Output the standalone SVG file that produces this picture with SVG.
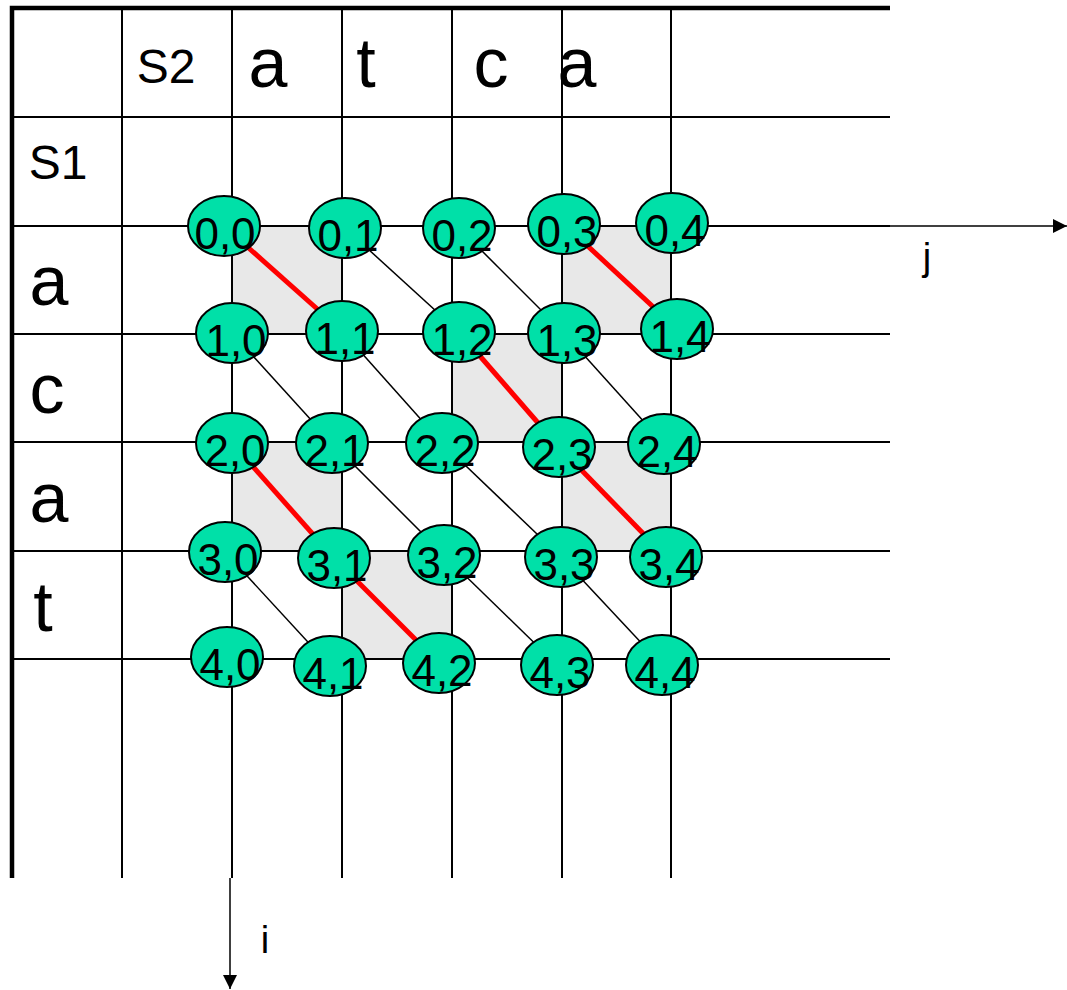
<svg xmlns="http://www.w3.org/2000/svg" width="1067" height="990" viewBox="0 0 1067 990">
<defs>
<style>
.grid{stroke:#000;stroke-width:2;fill:none}
.border{stroke:#000;stroke-width:4.5;fill:none}
.shade{fill:#e8e8e8}
.red{stroke:#ff0000;stroke-width:5}
.thin{stroke:#000;stroke-width:1.5}
.node ellipse{fill:#00e0a8;stroke:#000;stroke-width:2}
.node text{font-family:"Liberation Sans",Arial,sans-serif;font-size:44px;text-anchor:middle;fill:#000}
.big{font-family:"Liberation Sans",Arial,sans-serif;font-size:70px;text-anchor:middle;fill:#000}
.mid{font-family:"Liberation Sans",Arial,sans-serif;font-size:48px;text-anchor:middle;fill:#000}
.axis{font-family:"Liberation Sans",Arial,sans-serif;font-size:38px;text-anchor:middle;fill:#000}
</style>
<marker id="arr" viewBox="0 0 10 10" refX="10" refY="5" markerWidth="14" markerHeight="14" markerUnits="userSpaceOnUse" orient="auto">
<path d="M0,0 L10,5 L0,10 z" fill="#000"/>
</marker>
</defs>
<rect width="1067" height="990" fill="#fff"/>
<g id="shading">
<rect class="shade" x="232" y="226" width="110" height="108"/>
<rect class="shade" x="562" y="226" width="109" height="108"/>
<rect class="shade" x="452" y="334" width="110" height="108"/>
<rect class="shade" x="232" y="442" width="110" height="109"/>
<rect class="shade" x="562" y="442" width="109" height="109"/>
<rect class="shade" x="342" y="551" width="110" height="108"/>
</g>
<g id="grid">
<line class="grid" x1="122" y1="8" x2="122" y2="878"/>
<line class="grid" x1="232" y1="8" x2="232" y2="878"/>
<line class="grid" x1="342" y1="8" x2="342" y2="878"/>
<line class="grid" x1="452" y1="8" x2="452" y2="878"/>
<line class="grid" x1="562" y1="8" x2="562" y2="878"/>
<line class="grid" x1="671" y1="8" x2="671" y2="878"/>
<line class="grid" x1="12" y1="117" x2="890" y2="117"/>
<line class="grid" x1="12" y1="226" x2="890" y2="226"/>
<line class="grid" x1="12" y1="334" x2="890" y2="334"/>
<line class="grid" x1="12" y1="442" x2="890" y2="442"/>
<line class="grid" x1="12" y1="551" x2="890" y2="551"/>
<line class="grid" x1="12" y1="659" x2="890" y2="659"/>
<path class="border" d="M12,878 L12,8 L890,8"/>
</g>
<g id="axes">
<line x1="890" y1="226" x2="1067" y2="226" stroke="#000" stroke-width="1.5" marker-end="url(#arr)"/>
<line x1="230" y1="878" x2="230" y2="989" stroke="#000" stroke-width="1.5" marker-end="url(#arr)"/>
<text class="axis" x="927" y="270">j</text>
<text class="axis" x="265" y="953">i</text>
</g>
<g id="labels">
<text class="mid" x="166" y="83">S2</text>
<text class="big" x="268" y="87">a</text>
<text class="big" x="366" y="87">t</text>
<text class="big" x="491" y="87">c</text>
<text class="big" x="577" y="87">a</text>
<text class="mid" x="58" y="179">S1</text>
<text class="big" x="49" y="305">a</text>
<text class="big" x="47" y="413">c</text>
<text class="big" x="49" y="522">a</text>
<text class="big" x="43" y="631">t</text>
</g>
<g id="connectors">
<line class="red" x1="224" y1="226" x2="342" y2="331"/>
<line class="red" x1="564" y1="224" x2="677" y2="329"/>
<line class="red" x1="459" y1="332" x2="559" y2="447"/>
<line class="red" x1="232" y1="443" x2="334" y2="558"/>
<line class="red" x1="559" y1="447" x2="666" y2="557"/>
<line class="red" x1="334" y1="558" x2="439" y2="663"/>
<line class="thin" x1="345" y1="228" x2="459" y2="332"/>
<line class="thin" x1="459" y1="228" x2="564" y2="333"/>
<line class="thin" x1="232" y1="333" x2="332" y2="443"/>
<line class="thin" x1="342" y1="331" x2="442" y2="443"/>
<line class="thin" x1="564" y1="333" x2="664" y2="444"/>
<line class="thin" x1="332" y1="443" x2="444" y2="555"/>
<line class="thin" x1="442" y1="443" x2="561" y2="557"/>
<line class="thin" x1="225" y1="552" x2="330" y2="666"/>
<line class="thin" x1="444" y1="555" x2="557" y2="665"/>
<line class="thin" x1="561" y1="557" x2="662" y2="665"/>
</g>
<g id="n00" class="node"><ellipse cx="224" cy="226" rx="36" ry="30"/><text x="225" y="249">0,0</text></g>
<g id="n01" class="node"><ellipse cx="345" cy="228" rx="36" ry="30"/><text x="348" y="251">0,1</text></g>
<g id="n02" class="node"><ellipse cx="459" cy="228" rx="36" ry="30"/><text x="462" y="251">0,2</text></g>
<g id="n03" class="node"><ellipse cx="564" cy="224" rx="36" ry="30"/><text x="567" y="247">0,3</text></g>
<g id="n04" class="node"><ellipse cx="672" cy="223" rx="36" ry="30"/><text x="675" y="246">0,4</text></g>
<g id="n10" class="node"><ellipse cx="232" cy="333" rx="36" ry="30"/><text x="236" y="356">1,0</text></g>
<g id="n11" class="node"><ellipse cx="342" cy="331" rx="36" ry="30"/><text x="345" y="354">1,1</text></g>
<g id="n12" class="node"><ellipse cx="459" cy="332" rx="36" ry="30"/><text x="462" y="355">1,2</text></g>
<g id="n13" class="node"><ellipse cx="564" cy="333" rx="36" ry="30"/><text x="567" y="356">1,3</text></g>
<g id="n14" class="node"><ellipse cx="677" cy="329" rx="36" ry="30"/><text x="680" y="352">1,4</text></g>
<g id="n20" class="node"><ellipse cx="232" cy="443" rx="36" ry="30"/><text x="235" y="466">2,0</text></g>
<g id="n21" class="node"><ellipse cx="332" cy="443" rx="36" ry="30"/><text x="335" y="466">2,1</text></g>
<g id="n22" class="node"><ellipse cx="442" cy="443" rx="36" ry="30"/><text x="445" y="466">2,2</text></g>
<g id="n23" class="node"><ellipse cx="559" cy="447" rx="36" ry="30"/><text x="562" y="470">2,3</text></g>
<g id="n24" class="node"><ellipse cx="664" cy="444" rx="36" ry="30"/><text x="667" y="467">2,4</text></g>
<g id="n30" class="node"><ellipse cx="225" cy="552" rx="36" ry="30"/><text x="228" y="575">3,0</text></g>
<g id="n31" class="node"><ellipse cx="334" cy="558" rx="36" ry="30"/><text x="337" y="581">3,1</text></g>
<g id="n32" class="node"><ellipse cx="444" cy="555" rx="36" ry="30"/><text x="447" y="578">3,2</text></g>
<g id="n33" class="node"><ellipse cx="561" cy="557" rx="36" ry="30"/><text x="564" y="580">3,3</text></g>
<g id="n34" class="node"><ellipse cx="666" cy="557" rx="36" ry="30"/><text x="669" y="580">3,4</text></g>
<g id="n40" class="node"><ellipse cx="227" cy="657" rx="36" ry="30"/><text x="230" y="680">4,0</text></g>
<g id="n41" class="node"><ellipse cx="330" cy="666" rx="36" ry="30"/><text x="333" y="689">4,1</text></g>
<g id="n42" class="node"><ellipse cx="439" cy="663" rx="36" ry="30"/><text x="442" y="686">4,2</text></g>
<g id="n43" class="node"><ellipse cx="557" cy="665" rx="36" ry="30"/><text x="560" y="688">4,3</text></g>
<g id="n44" class="node"><ellipse cx="662" cy="665" rx="36" ry="30"/><text x="665" y="688">4,4</text></g>
</svg>
